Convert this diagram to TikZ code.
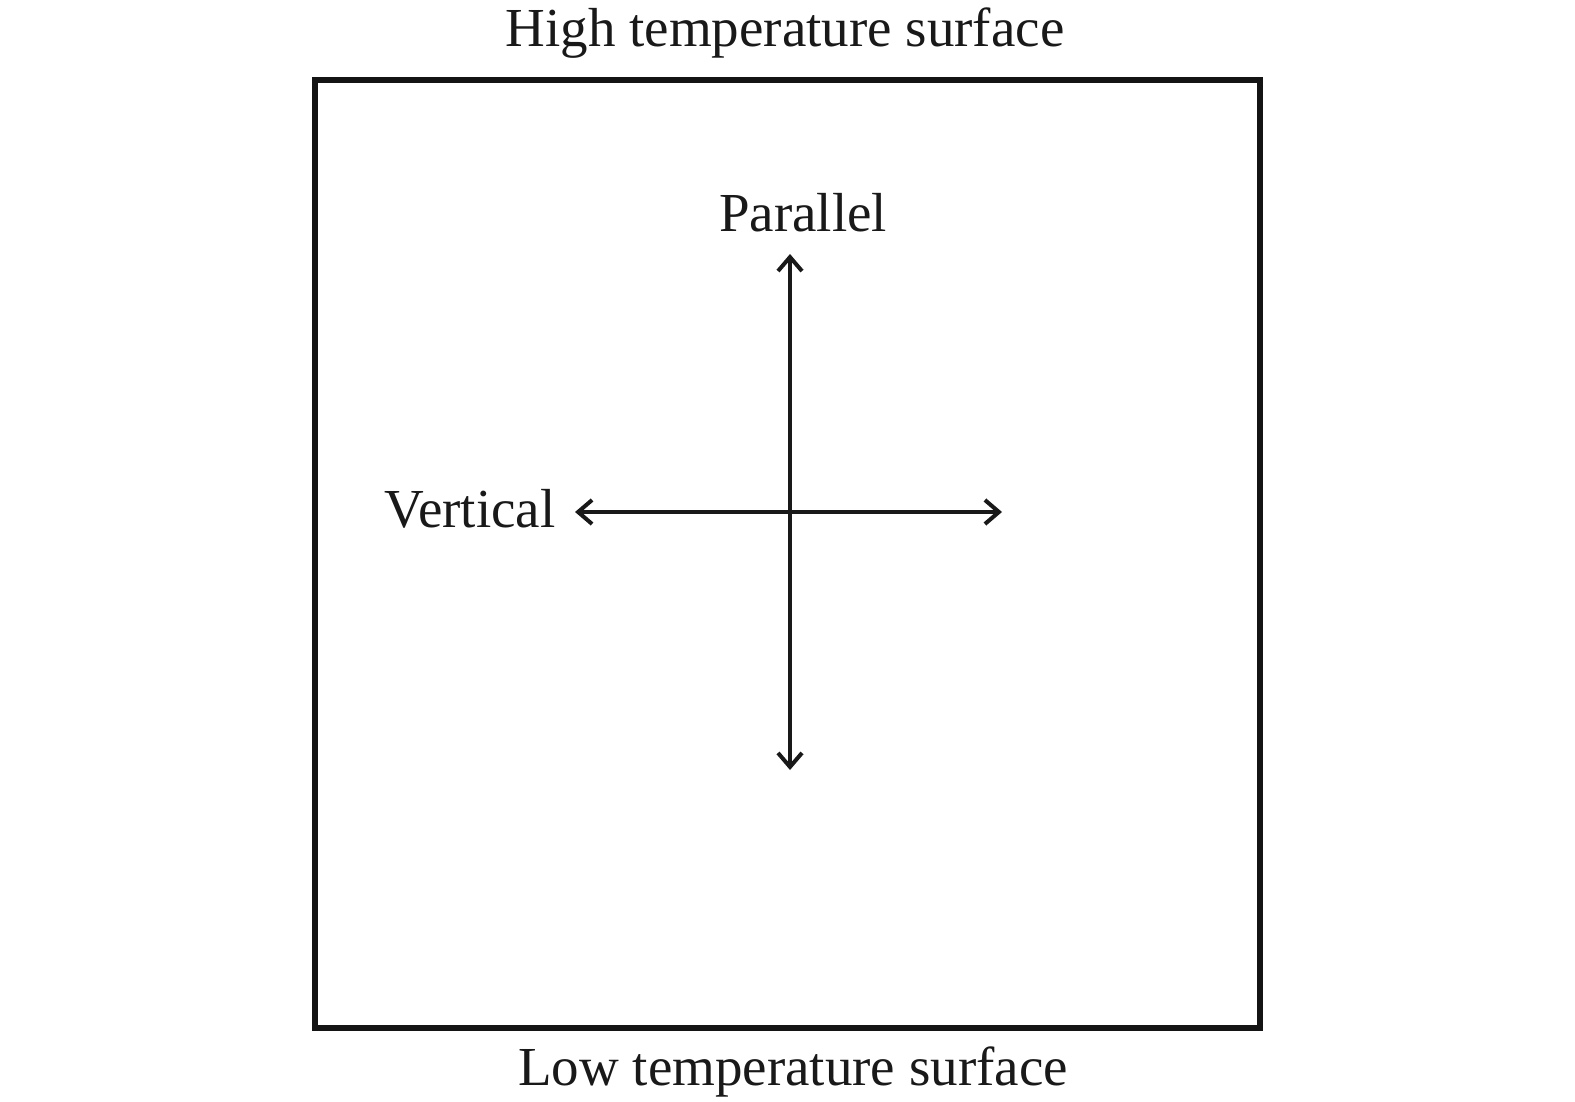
\documentclass[tikz,border=0pt]{standalone}
\usepackage{fontspec}
\setmainfont{Liberation Serif}
\usetikzlibrary{arrows.meta}
\begin{document}
\begin{tikzpicture}[x=0.5pt,y=-0.5pt,
  lbl/.style={font=\fontsize{27.5}{33}\selectfont,text=black!90,inner sep=0pt,anchor=base},
  dirarrow/.style={{Straight Barb[length=7pt,width=12pt,line width=2pt]}-{Straight Barb[length=7pt,width=12pt,line width=2pt]},line width=2pt,black!90}]
\useasboundingbox (0,0) rectangle (1575,1102);
\draw[line width=3.2pt,black!92] (315,80) rectangle (1260,1028);
\node[lbl] (high) at (785,47) {High temperature surface};
\node[lbl] (low) at (793,1085) {Low temperature surface};

\coordinate (ptop) at (790,254);
\coordinate (pbot) at (790,770);
\coordinate (vleft) at (575,512);
\coordinate (vright) at (1002,512);
\draw[dirarrow] (ptop) -- (pbot);
\draw[dirarrow] (vleft) -- (vright);
\node[lbl] (par) at (803,231) {Parallel};
\node[lbl,anchor=base east] (vert) at (556,527) {Vertical};
\end{tikzpicture}
\end{document}
